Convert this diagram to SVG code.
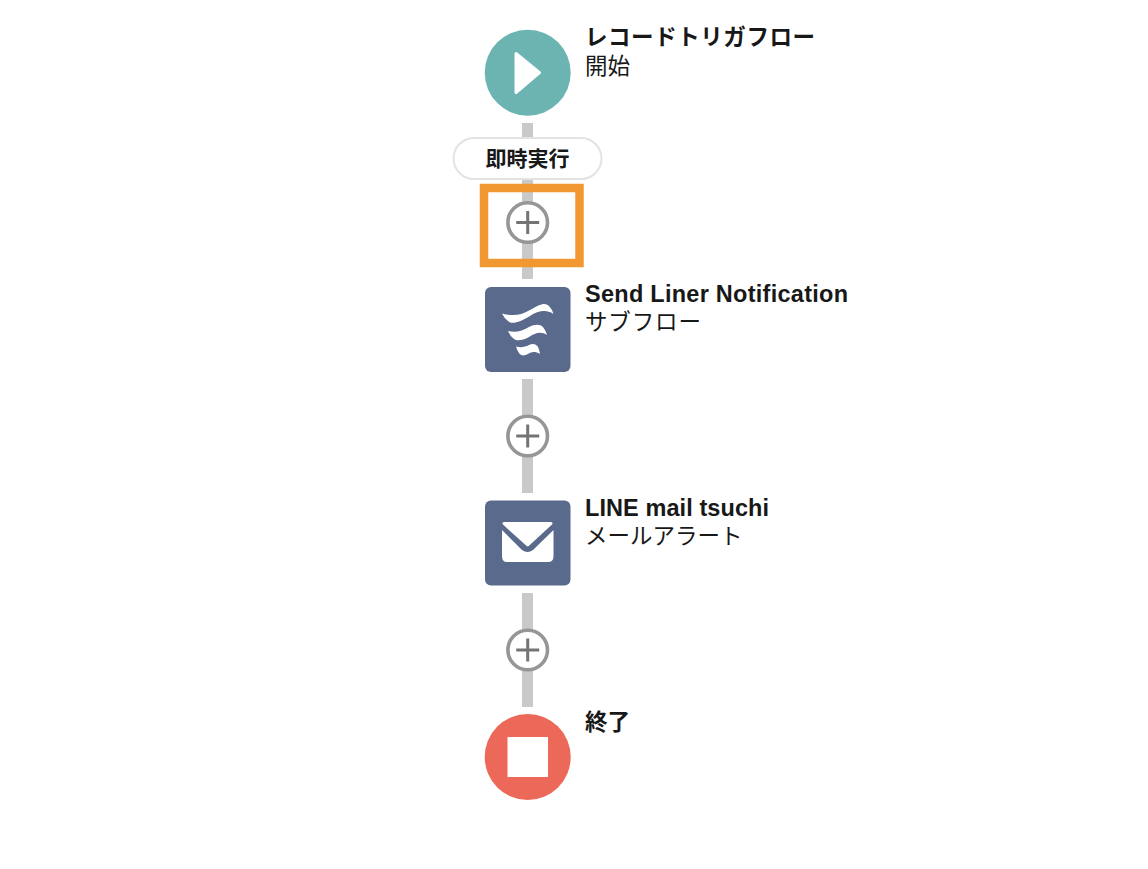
<svg xmlns="http://www.w3.org/2000/svg" width="1148" height="869" viewBox="0 0 1148 869">
<style>
.bg{fill:#fff}
.line{fill:#c9c9c9}
.t{font-size:22.5px;fill:#181818}
.b{font-weight:700;font-family:"Liberation Sans","Noto Sans CJK JP",sans-serif}
.s{font-family:"Noto Sans CJK JP",sans-serif;font-weight:400}
.l{font-size:23.500px}
.tile{fill:#5a6a8c}
.plus circle{fill:#fff;stroke:#969696;stroke-width:3.6}
.plus path{fill:none;stroke:#747474;stroke-width:3}
</style>
<defs>
<g id="plus" class="plus"><circle r="19.800"/><path d="M-11.500 0H11.500M0 -11.500V11.500"/></g>
</defs>
<rect class="bg" width="1148" height="869"/>
<g id="connectors">
<rect class="line" x="522" y="123" width="11" height="156"/>
<rect class="line" x="522" y="379" width="11" height="114"/>
<rect class="line" x="522" y="593" width="11" height="114"/>
</g>
<g id="node-start">
<circle cx="527.700" cy="72.700" r="43" fill="#6cb4b2"/>
<path d="M516 53.500L539.500 72.700L516 92.500Z" fill="#fff" stroke="#fff" stroke-width="3" stroke-linejoin="round"/>
<text class="t b" x="585" y="45" textLength="230" lengthAdjust="spacing">レコードトリガフロー</text>
<text class="t s" x="585" y="74">開始</text>
</g>
<g id="node-immediate">
<rect x="453.500" y="138" width="148" height="41" rx="20.500" fill="#fff" stroke="#e3e3e3" stroke-width="2"/>
<text class="t b" x="527.500" y="166" text-anchor="middle" style="font-size:21px">即時実行</text>
</g>
<g id="node-add-1">
<use href="#plus" x="527.700" y="222.500"/>
<rect x="484" y="188" width="95.500" height="75" fill="none" stroke="#f29833" stroke-width="8.500"/>
</g>
<g id="node-subflow">
<rect class="tile" x="485" y="287" width="85.500" height="85" rx="6"/>
<path d="M502 313.500C512 316 520 316 530 310C540 304 545 302 549 306Q552 309 553.500 314C546 309 538 311 530 316C520 322 512 325 508 321Q504 318 502 313.500Z M508 331C516 333 522 331 529 327C535 324 540 324 543 327Q546 331 547 335C541 331 535 333 529 337C522 341 517 341 514 339Q510 336 508 331Z M516 346.500C521 348 525 347 529 345C533 343 536 344 538 347Q539.500 350 540 354C535 351 531 352 528 354C524 356 521 356 519 353Q517 350 516 346.500Z" fill="#fff"/>
<text class="t b l" x="585" y="302" textLength="263" lengthAdjust="spacing">Send Liner Notification</text>
<text class="t s" x="585" y="330" textLength="116" lengthAdjust="spacing">サブフロー</text>
</g>
<g id="node-add-2"><use href="#plus" x="527.700" y="436"/></g>
<g id="node-mail">
<rect class="tile" x="485" y="500.500" width="85.500" height="85" rx="6"/>
<path d="M504 523.500H551L527.700 545Z" fill="#fff" stroke="#fff" stroke-width="3" stroke-linejoin="round"/>
<path d="M502 530L522 550Q527.700 554 533 550L553.500 530V556Q553.500 562 548 562H507Q502 562 502 556Z" fill="#fff"/>
<text class="t b l" x="585" y="516" textLength="184" lengthAdjust="spacing">LINE mail tsuchi</text>
<text class="t s" x="585" y="544">メールアラート</text>
</g>
<g id="node-add-3"><use href="#plus" x="527.700" y="650"/></g>
<g id="node-end">
<circle cx="527.700" cy="757" r="43" fill="#ec6858"/>
<rect x="507.500" y="737" width="40.500" height="40" fill="#fff"/>
<text class="t b" x="585" y="730">終了</text>
</g>
</svg>
